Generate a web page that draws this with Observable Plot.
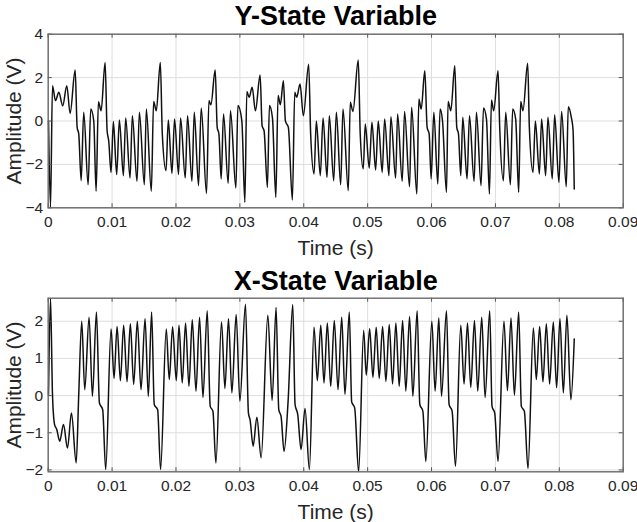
<!DOCTYPE html>
<html><head><meta charset="utf-8">
<script src="https://cdn.jsdelivr.net/npm/d3@7"></script>
<script src="https://cdn.jsdelivr.net/npm/@observablehq/plot@0.6"></script>
<style>
body{margin:0;background:#fff;}
#chart{width:637px;height:522px;position:relative;overflow:hidden;background:#fff;}
#chart svg{display:block;}
</style></head><body><div id="chart"></div>
<script>
const xTicks = [0, 0.01, 0.02, 0.03, 0.04, 0.05, 0.06, 0.07, 0.08, 0.09];
const xTickLabels = ["0", "0.01", "0.02", "0.03", "0.04", "0.05", "0.06", "0.07", "0.08", "0.09"];
const yTicksTop = [-4, -2, 0, 2, 4];
const yTicksBottom = [-2, -1, 0, 1, 2];
const titles = ["Y-State Variable", "X-State Variable"];
const xLabel = "Time (s)";
const yLabel = "Amplitude (V)";

// Y-state variable: times (s) and amplitudes (V), read at extrema and shoulders
const yTime = [0.00005,0.00036,0.00067,0.00114,0.00166,0.00228,0.00291,0.00343,0.00422,0.00453,0.00478,0.00516,0.00556,0.00625,0.00666,0.00713,0.0075,0.00786,0.00828,0.00891,0.00922,0.00947,0.00984,0.0102,0.01072,0.01114,0.01177,0.01213,0.01281,0.01317,0.0139,0.01427,0.01505,0.01536,0.01614,0.0165,0.01692,0.01755,0.01786,0.01844,0.0188,0.01937,0.01978,0.0204,0.02072,0.02145,0.02181,0.0225,0.02286,0.02353,0.02395,0.02478,0.02516,0.02547,0.02614,0.02645,0.02672,0.02708,0.02744,0.02817,0.02853,0.02938,0.02969,0.03031,0.03078,0.03109,0.03145,0.03192,0.03244,0.03317,0.03348,0.03379,0.03431,0.03463,0.0351,0.03563,0.03598,0.03634,0.03681,0.03713,0.03759,0.03822,0.03859,0.0389,0.03942,0.03994,0.04077,0.04108,0.04161,0.04197,0.04259,0.04302,0.04364,0.044,0.04469,0.0451,0.04578,0.04614,0.04697,0.04728,0.0477,0.04853,0.04884,0.04931,0.04963,0.05025,0.05067,0.05125,0.05166,0.05228,0.05266,0.05333,0.05364,0.05438,0.05469,0.05541,0.05578,0.05656,0.05688,0.0577,0.05802,0.05838,0.05895,0.05931,0.05963,0.05994,0.06036,0.06098,0.06134,0.06172,0.06234,0.06259,0.06302,0.06364,0.06395,0.06422,0.06458,0.06489,0.06556,0.06594,0.06666,0.06703,0.06775,0.06813,0.0686,0.06906,0.06938,0.06973,0.07041,0.07067,0.07125,0.07161,0.07234,0.0727,0.07317,0.07364,0.07395,0.07431,0.07505,0.07531,0.07588,0.07625,0.07688,0.07723,0.07786,0.07822,0.0789,0.07927,0.07994,0.08036,0.08109,0.0814,0.08188,0.08215,0.08234];
const yValue = [0,-3.98,1.63,0.94,1.32,0.70,1.63,0.35,2.35,-0.29,-0.59,-2.75,0.40,-2.94,0.55,0.0,-3.24,0.89,0.47,2.70,-0.45,-0.91,-2.37,-0.02,-2.47,0.05,-2.52,0.14,-2.63,0.24,-2.78,0.40,-2.94,0.55,-3.24,0.90,0.47,2.70,-0.60,-2.29,0.05,-2.41,0.09,-2.47,0.14,-2.63,0.24,-2.78,0.40,-2.98,0.60,-3.34,0.94,0.75,2.35,-0.29,-0.60,-2.67,0.32,-2.87,0.47,-3.09,0.71,0.0,-3.75,1.36,1.09,1.55,0.47,2.12,-0.22,-0.45,-3.06,0.71,0.14,-3.52,1.17,0.75,1.86,0.0,-0.29,-3.64,1.32,1.09,1.70,0.24,2.62,-0.60,-2.44,0.0,-2.52,0.14,-2.60,0.24,-2.75,0.40,-2.94,0.55,-3.21,0.86,0.44,2.81,-0.60,-2.21,-0.14,-2.17,-0.06,-2.26,0.0,-2.37,0.09,-2.52,0.20,-2.63,0.32,-2.78,0.44,-3.03,0.63,-3.36,1.01,0.55,2.32,-0.29,-0.60,-2.67,0.40,-2.90,0.55,0.0,-3.29,0.90,0.47,2.55,-0.29,-0.60,-2.52,0.17,-2.67,0.24,-2.78,0.40,-2.98,0.60,0.09,-3.36,0.97,0.47,2.32,-0.29,-2.75,0.40,-2.94,0.55,0.09,-3.29,0.90,0.47,2.66,-0.29,-2.37,0.0,-2.44,0.09,-2.52,0.17,-2.67,0.29,-2.83,0.44,-3.03,0.66,0.17,-0.40,-3.13];

// X-state variable
const xTime = [0.00005,0.00036,0.00067,0.001,0.00134,0.00181,0.00239,0.00302,0.00364,0.00438,0.00478,0.00525,0.00572,0.0064,0.00692,0.00755,0.00802,0.00853,0.009,0.00984,0.01031,0.01078,0.0113,0.01181,0.01234,0.01286,0.01338,0.01395,0.01453,0.01516,0.01567,0.01619,0.0166,0.01713,0.01759,0.01848,0.01895,0.01947,0.02005,0.02047,0.02098,0.0215,0.02203,0.02255,0.02313,0.02369,0.02422,0.02489,0.02536,0.02578,0.02625,0.02713,0.02766,0.02822,0.02875,0.02942,0.03,0.03088,0.03134,0.0316,0.03208,0.03266,0.03333,0.03438,0.03505,0.03567,0.03609,0.03645,0.03692,0.03755,0.03828,0.03864,0.03906,0.03958,0.0402,0.04088,0.04161,0.04213,0.04266,0.04317,0.04369,0.04422,0.04478,0.04536,0.04594,0.04645,0.04713,0.0475,0.04797,0.04859,0.04938,0.04978,0.05031,0.05083,0.05134,0.05181,0.05234,0.05286,0.05338,0.0539,0.05442,0.05494,0.05547,0.05598,0.05656,0.05708,0.05775,0.05817,0.05864,0.05911,0.06005,0.06056,0.06114,0.06156,0.06234,0.06275,0.06322,0.06375,0.06458,0.06509,0.06563,0.06614,0.06672,0.06723,0.06786,0.06838,0.06911,0.06947,0.06989,0.07041,0.07134,0.07188,0.07244,0.07297,0.07364,0.07406,0.07453,0.0751,0.07594,0.0764,0.07692,0.07744,0.07797,0.07848,0.07906,0.07958,0.0801,0.08063,0.08119,0.08181,0.08234];
const xValue = [0.03,2.62,0.03,-0.78,-0.91,-1.23,-0.78,-1.41,-0.47,-1.81,0.03,2.0,0.16,2.11,-0.02,2.25,-0.20,-0.38,-1.99,1.79,0.46,1.86,0.40,1.89,0.37,1.93,0.30,2.0,0.16,2.07,-0.02,2.25,-0.24,-0.38,-1.99,1.79,0.43,1.85,0.40,1.89,0.34,1.95,0.25,2.04,0.12,2.11,-0.05,2.28,-0.29,-0.42,-1.81,1.98,0.19,2.07,0.07,2.18,-0.15,2.46,-0.47,-0.65,-1.36,-0.58,-1.67,2.16,-0.13,2.37,-0.38,-0.56,-1.50,-0.15,2.45,-0.24,-0.51,-1.45,-0.35,-1.99,1.84,0.40,1.89,0.34,1.95,0.25,2.02,0.16,2.11,0.03,2.25,-0.17,-0.33,-2.05,1.75,0.55,1.80,0.49,1.84,0.46,1.86,0.38,1.91,0.31,1.95,0.25,2.02,0.12,2.13,-0.02,2.28,-0.24,-0.42,-1.77,2.0,0.12,2.09,-0.02,2.28,-0.24,-0.42,-1.90,1.89,0.31,1.95,0.22,2.02,0.12,2.11,-0.05,2.28,-0.29,-0.47,-1.77,2.0,0.13,2.09,0.01,2.25,-0.29,-0.42,-1.96,1.82,0.43,1.86,0.37,1.93,0.31,1.98,0.21,2.07,0.07,2.16,-0.11,1.52];

const FONT = '"Liberation Sans", Arial, Helvetica, sans-serif';
const TEXT = "#262626";

function panel({title, times, values, yDomain, yTicks, height, marginTop, marginBottom, titleDy}) {
  const data = times.map((t, i) => ({t, v: values[i]}));
  const ML = 47.7, MR = 14.3;
  const W = 637;
  const xLen = 0.09 * 4 / (W - ML - MR);
  const yLen = (yDomain[1] - yDomain[0]) * 4 / (height - marginTop - marginBottom);
  return Plot.plot({
    width: W, height, marginTop, marginBottom, marginLeft: ML, marginRight: MR,
    style: {fontFamily: FONT, color: TEXT, background: "white", overflow: "visible"},
    x: {domain: [0, 0.09]},
    y: {domain: yDomain},
    marks: [
      Plot.gridX(xTicks, {stroke: "#dedede", strokeOpacity: 1}),
      Plot.gridY(yTicks, {stroke: "#dedede", strokeOpacity: 1}),
      Plot.line(data, {x: "t", y: "v", curve: "monotone-x", stroke: "#111", strokeWidth: 1.5}),
      Plot.ruleX(xTicks, {y1: yDomain[0], y2: yDomain[0] + yLen, stroke: "#555"}),
      Plot.ruleX(xTicks, {y1: yDomain[1], y2: yDomain[1] - yLen, stroke: "#555"}),
      Plot.ruleY(yTicks, {x1: 0, x2: xLen, stroke: "#555"}),
      Plot.ruleY(yTicks, {x1: 0.09, x2: 0.09 - xLen, stroke: "#555"}),
      Plot.frame({stroke: "#6a6a6a", strokeWidth: 1.4}),
      Plot.axisX(xTicks, {tickSize: 0, tickPadding: 8, fontSize: 15.5, label: null,
        tickFormat: d => xTickLabels[xTicks.indexOf(d)], fill: TEXT}),
      Plot.axisY(yTicks, {tickSize: 0, tickPadding: 5, fontSize: 15.5, label: null, fill: TEXT}),
      Plot.text([xLabel], {frameAnchor: "bottom", lineAnchor: "middle", textAnchor: "middle", dy: 40, fontSize: 21, fill: TEXT}),
      Plot.text([yLabel], {frameAnchor: "left", lineAnchor: "middle", textAnchor: "middle", dx: -33.7, rotate: -90, fontSize: 21, fill: TEXT}),
      Plot.text([title], {frameAnchor: "top", lineAnchor: "middle", textAnchor: "middle", dy: titleDy, fontSize: 27, fontWeight: "bold", fill: "#000"})
    ]
  });
}

const root = document.getElementById("chart");
root.append(panel({title: titles[0], times: yTime, values: yValue, yDomain: [-4, 4], yTicks: yTicksTop,
  height: 265, marginTop: 33.7, marginBottom: 57.7, titleDy: -17.5}));
root.append(panel({title: titles[1], times: xTime, values: xValue, yDomain: [-2.05, 2.62], yTicks: yTicksBottom,
  height: 257, marginTop: 32.7, marginBottom: 50.7, titleDy: -17}));
</script></body></html>
